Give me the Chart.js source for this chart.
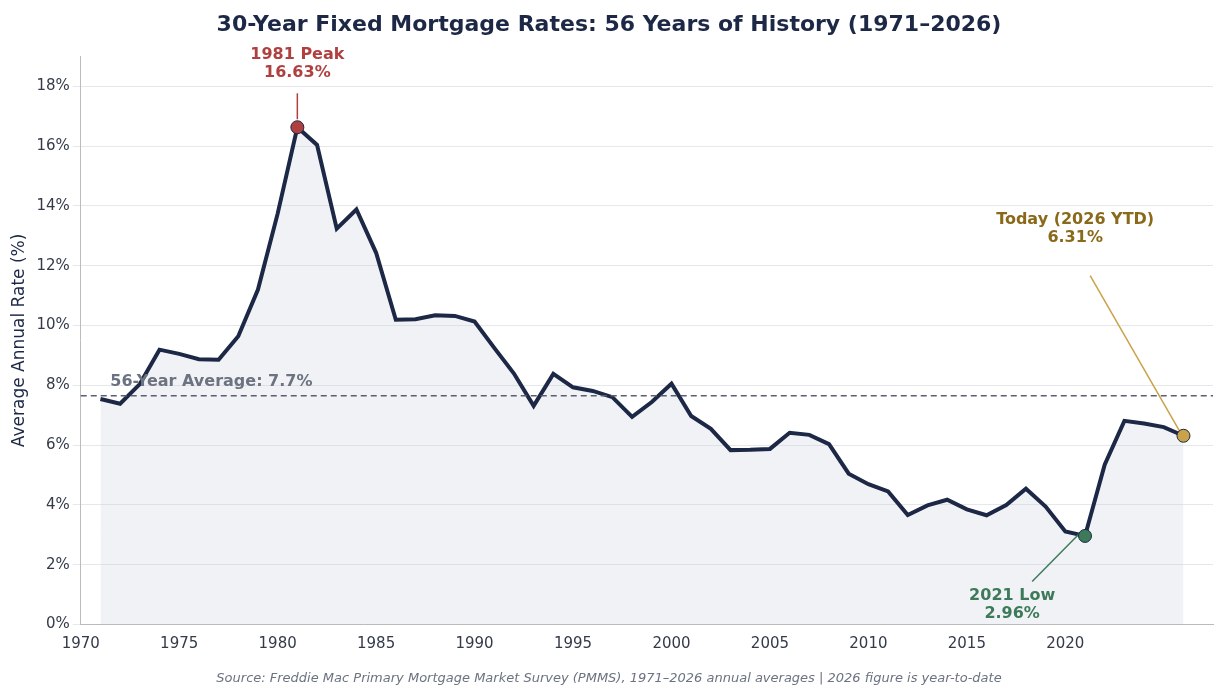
<!DOCTYPE html>
<html>
<head>
<meta charset="utf-8">
<script src="https://cdn.jsdelivr.net/npm/chart.js@4"></script>
<style>
  html, body { margin: 0; padding: 0; background: #fff; }
  #wrap { width: 1229px; height: 692px; }
</style>
</head>
<body>
<div id="wrap"><canvas id="myChart"></canvas></div>
<script>
const years = [];
for (let y = 1971; y <= 2026; y++) years.push(y);

const rates = [
  7.54, 7.38, 8.04, 9.19, 9.05, 8.87, 8.85, 9.64, 11.20, 13.74,
  16.63, 16.04, 13.24, 13.88, 12.43, 10.19, 10.21, 10.34, 10.32, 10.13,
  9.25, 8.39, 7.31, 8.38, 7.93, 7.81, 7.60, 6.94, 7.44, 8.05,
  6.97, 6.54, 5.83, 5.84, 5.87, 6.41, 6.34, 6.03, 5.04, 4.69,
  4.45, 3.66, 3.98, 4.17, 3.85, 3.65, 3.99, 4.54, 3.94, 3.11,
  2.96, 5.34, 6.81, 6.72, 6.60, 6.31
];

const average = 7.65;
const yTicks = [0, 2, 4, 6, 8, 10, 12, 14, 16, 18];

const points = years.map((y, i) => ({ x: y, y: rates[i] }));

// callouts: point, label lines, label position (in data units), colours
const callouts = [
  { x: 1981, y: 16.63, text: ['1981 Peak', '16.63%'], lx: 1981, ly: 18.1, color: '#b04040', dot: '#b04040', line: '#b04040' },
  { x: 2021, y: 2.96, text: ['2021 Low', '2.96%'], lx: 2017.3, ly: 0.7, color: '#3d7a5a', dot: '#3d7a5a', line: '#3d7a5a' },
  { x: 2026, y: 6.31, text: ['Today (2026 YTD)', '6.31%'], lx: 2020.5, ly: 12.6, color: '#8a6a1a', dot: '#c9a24a', line: '#c9a24a' }
];

const annotate = {
  id: 'annotate',
  afterDatasetsDraw(chart) {
    const { ctx, scales: { x, y }, chartArea } = chart;
    ctx.save();
    // average line
    const ay = y.getPixelForValue(average);
    ctx.setLineDash([6, 4]);
    ctx.strokeStyle = '#5a6070';
    ctx.lineWidth = 1.5;
    ctx.beginPath(); ctx.moveTo(chartArea.left, ay); ctx.lineTo(chartArea.right, ay); ctx.stroke();
    ctx.setLineDash([]);
    ctx.fillStyle = '#6b7280';
    ctx.font = 'bold 16px "DejaVu Sans"';
    ctx.textAlign = 'left';
    ctx.textBaseline = 'bottom';
    ctx.fillText('56-Year Average: 7.7%', x.getPixelForValue(1971.5), ay - 6);

    callouts.forEach(c => {
      const px = x.getPixelForValue(c.x), py = y.getPixelForValue(c.y);
      const lx = x.getPixelForValue(c.lx), ly = y.getPixelForValue(c.ly);
      ctx.strokeStyle = c.line;
      ctx.lineWidth = 1.5;
      ctx.beginPath();
      if (c.x === 1981) { ctx.moveTo(px, ly + 10); ctx.lineTo(px, py - 8); }
      else if (c.x === 2021) { ctx.moveTo(lx + 20, ly - 22); ctx.lineTo(px - 4, py - 4); }
      else { ctx.moveTo(lx + 15, ly + 28); ctx.lineTo(px - 4, py - 5); }
      ctx.stroke();
      ctx.beginPath();
      ctx.arc(px, py, 6.5, 0, Math.PI * 2);
      ctx.fillStyle = c.dot; ctx.fill();
      ctx.strokeStyle = '#1c2845'; ctx.lineWidth = 1; ctx.stroke();
      ctx.fillStyle = c.color;
      ctx.font = 'bold 16px "DejaVu Sans"';
      ctx.textAlign = 'center';
      ctx.textBaseline = 'middle';
      const base = c.x === 2021 ? ly - 8 : ly - 28;
      ctx.fillText(c.text[0], lx, base);
      ctx.fillText(c.text[1], lx, base + 18);
    });
    ctx.restore();
  }
};

const config = {
  type: 'line',
  data: {
    datasets: [{
      data: points,
      borderColor: '#1c2845',
      borderWidth: 4,
      backgroundColor: 'rgba(200, 205, 215, 0.25)',
      fill: 'origin',
      pointRadius: 0,
      tension: 0
    }]
  },
  options: {
    responsive: true,
    maintainAspectRatio: false,
    animation: false,
    layout: { padding: { left: 5, right: 16, top: 0, bottom: 0 } },
    plugins: {
      legend: { display: false },
      tooltip: { enabled: false },
      title: {
        display: true,
        text: '30-Year Fixed Mortgage Rates: 56 Years of History (1971\u20132026)',
        color: '#1c2845',
        font: { family: '"DejaVu Sans"', size: 22, weight: 'bold' },
        padding: { top: 12, bottom: 18 }
      },
      subtitle: {
        display: true,
        position: 'bottom',
        text: 'Source: Freddie Mac Primary Mortgage Market Survey (PMMS), 1971\u20132026 annual averages | 2026 figure is year-to-date',
        color: '#6b7280',
        font: { family: '"DejaVu Sans"', size: 13, style: 'italic' },
        padding: { top: 14, bottom: 6 }
      }
    },
    scales: {
      x: {
        type: 'linear',
        min: 1970,
        max: 2027.5,
        ticks: {
          stepSize: 5,
          color: '#333a48',
          font: { family: '"DejaVu Sans"', size: 15 },
          callback: v => (v % 5 === 0 ? String(v) : '')
        },
        grid: { display: false },
        border: { color: '#bbb' }
      },
      y: {
        min: 0,
        max: 19,
        afterBuildTicks: axis => { axis.ticks = yTicks.map(v => ({ value: v })); },
        ticks: {
          color: '#333a48',
          font: { family: '"DejaVu Sans"', size: 15 },
          callback: v => v + '%'
        },
        grid: { color: '#e5e7eb' },
        border: { color: '#bbb' },
        title: {
          display: true,
          text: 'Average Annual Rate (%)',
          color: '#1c2845',
          font: { family: '"DejaVu Sans"', size: 17 }
        }
      }
    }
  },
  plugins: [annotate]
};

const myChart = new Chart(document.getElementById('myChart'), config);
</script>
</body>
</html>
